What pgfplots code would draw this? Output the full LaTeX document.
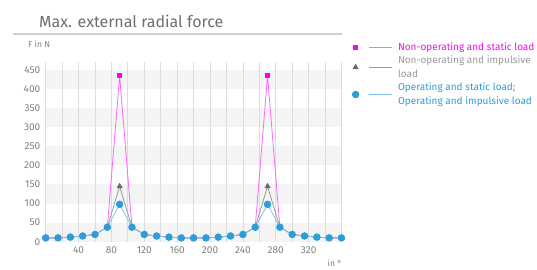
\documentclass[border=0pt]{standalone}
\usepackage{pgfplots}
\pgfplotsset{compat=1.18}
\usepackage{fontspec}
\setmainfont{Fira Sans}
\definecolor{txt}{HTML}{7F7F7F}
\definecolor{ttl}{HTML}{6E6E6E}
\definecolor{rule}{HTML}{D0D0D0}
\definecolor{band}{HTML}{F4F4F4}
\definecolor{gridc}{HTML}{DCDCDC}
\definecolor{magm}{HTML}{FF00FF}
\definecolor{magl}{HTML}{FF66FF}
\definecolor{grym}{HTML}{6A6A6A}
\definecolor{gryl}{HTML}{9A9A9A}
\definecolor{blum}{HTML}{2C9DD8}
\definecolor{blul}{HTML}{7CC4EA}
\pgfplotstableread{
ang nonstat nonimp op
0 10 10 10
15 10 10 10
30 12 12 12
45 15 15 15
60 19 19 19
75 38 38 38
90 435 145 98
105 38 38 38
120 19 19 19
135 15 15 15
150 12 12 12
165 10 10 10
180 10 10 10
195 10 10 10
210 12 12 12
225 15 15 15
240 19 19 19
255 38 38 38
270 435 145 98
285 38 38 38
300 19 19 19
315 15 15 15
330 12 12 12
345 10 10 10
360 10 10 10
}\data
\begin{document}
\begin{tikzpicture}
\draw[rule, line width=1.5pt] (13pt,235pt) -- (342pt,235pt);
\node[anchor=west, inner sep=0pt, font=\fontsize{16}{18}\selectfont, text=ttl] at (39pt,247.3pt) {Max. external radial force};
\node[anchor=west, inner sep=0pt, font=\fontsize{8.5}{10}\selectfont, text=txt] at (28pt,224.5pt) {F in N};
\node[anchor=east, inner sep=0pt, font=\fontsize{8.5}{10}\selectfont, text=txt] at (342pt,6pt) {in °};
\begin{axis}[
  set layers,
  at={(45.7pt,27.3pt)}, anchor=south west,
  scale only axis, width=295.8pt, height=179.7pt,
  xmin=0, xmax=360, ymin=0, ymax=471,
  axis line style={draw=none},
  tick style={draw=none},
  xtick={40,80,...,320},
  minor xtick={0,20,...,360},
  ytick={0,50,...,450},
  xmajorgrids, xminorgrids,
  major grid style={gridc, line width=0.8pt},
  minor grid style={gridc, line width=0.8pt},
  ticklabel style={font=\fontsize{10}{12}\selectfont, text=txt},
  yticklabel style={xshift=-2pt},
  xticklabel style={yshift=-1pt},
  /pgf/number format/assume math mode=true,
  clip=false,
  legend cell align=left,
  legend style={at={(1.036,1.115)}, anchor=north west, draw=none, fill=none,
    font=\fontsize{10}{12.5}\selectfont, row sep=1.5pt, inner sep=0pt,
    nodes={align=left, inner sep=1pt},
    /tikz/every odd column/.append style={column sep=5pt}},
  legend image code/.code={
    \draw[#1, mark=none] (13pt,0pt) -- (36pt,0pt);
    \draw[#1, only marks] plot coordinates {(0pt,0pt)};
  },
]
\begin{pgfonlayer}{axis background}
\fill[band] (axis cs:0,0) rectangle (axis cs:360,50);
\fill[band] (axis cs:0,100) rectangle (axis cs:360,150);
\fill[band] (axis cs:0,200) rectangle (axis cs:360,250);
\fill[band] (axis cs:0,300) rectangle (axis cs:360,350);
\fill[band] (axis cs:0,400) rectangle (axis cs:360,450);
\end{pgfonlayer}
\addplot[magl, line width=0.8pt, mark=square*, mark size=2pt, mark options={fill=magm, draw=magm}] table[x=ang, y=nonstat] {\data};
\addlegendentry[text=magm]{Non-operating and static load}
\addplot[gryl, line width=0.8pt, mark=triangle*, mark size=2.8pt, mark options={fill=grym, draw=grym}] table[x=ang, y=nonimp] {\data};
\addlegendentry[text=gryl]{Non-operating and impulsive\\[2pt]load}
\addplot[blul, line width=0.8pt, mark=*, mark size=3.3pt, mark options={fill=blum, draw=blum}] table[x=ang, y=op] {\data};
\addlegendentry[text=blum]{Operating and static load;\\[2pt]Operating and impulsive load}
\end{axis}
\pgfresetboundingbox
\path[use as bounding box] (0pt,0pt) rectangle (537pt,269pt);
\end{tikzpicture}
\end{document}
